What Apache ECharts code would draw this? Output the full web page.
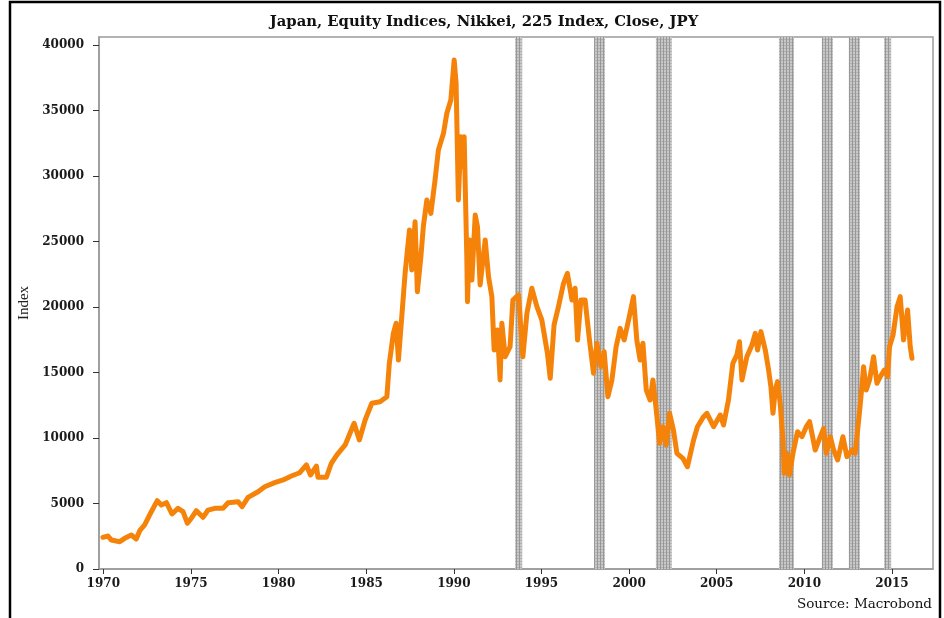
<!DOCTYPE html>
<html>
<head>
<meta charset="utf-8">
<title>Nikkei 225</title>
<script src="https://cdn.jsdelivr.net/npm/echarts@6/dist/echarts.min.js"></script>
<style>
  html, body { margin: 0; padding: 0; background: #fff; }
  #chart { width: 944px; height: 618px; }
</style>
</head>
<body>
<div id="chart"></div>
<script>
// Nikkei 225 close (decimal year, index level)
const years = [
  1969.98, 1970.27, 1970.46, 1970.94, 1971.22, 1971.6, 1971.88, 1972.08, 1972.36, 1972.74,
  1973.08, 1973.31, 1973.6, 1973.92, 1974.26, 1974.55, 1974.8, 1975.02, 1975.31, 1975.69,
  1975.98, 1976.36, 1976.83, 1977.12, 1977.69, 1977.92, 1978.26, 1978.83, 1979.21, 1979.78,
  1980.26, 1980.73, 1981.21, 1981.59, 1981.82, 1982.16, 1982.25, 1982.73, 1983.01, 1983.32,
  1983.8, 1984.31, 1984.61, 1984.94, 1985.32, 1985.79, 1986.18, 1986.32, 1986.55, 1986.71,
  1986.84, 1987.03, 1987.22, 1987.47, 1987.6, 1987.79, 1987.92, 1988.12, 1988.26, 1988.46,
  1988.69, 1988.93, 1989.12, 1989.41, 1989.6, 1989.83, 1990.02, 1990.13, 1990.26, 1990.4,
  1990.51, 1990.59, 1990.74, 1990.78, 1990.89, 1991.03, 1991.22, 1991.35, 1991.5, 1991.79,
  1991.98, 1992.17, 1992.3, 1992.49, 1992.64, 1992.74, 1992.93, 1993.21, 1993.37, 1993.69,
  1993.94, 1994.17, 1994.45, 1994.74, 1995.02, 1995.34, 1995.5, 1995.72, 1995.97, 1996.26,
  1996.48, 1996.74, 1996.92, 1997.06, 1997.25, 1997.49, 1997.74, 1997.97, 1998.16, 1998.39,
  1998.58, 1998.79, 1999.02, 1999.26, 1999.49, 1999.72, 1999.97, 2000.25, 2000.44, 2000.63,
  2000.79, 2000.98, 2001.2, 2001.36, 2001.59, 2001.74, 2001.93, 2002.12, 2002.31, 2002.53,
  2002.73, 2003.07, 2003.33, 2003.68, 2003.9, 2004.25, 2004.44, 2004.82, 2005.2, 2005.39,
  2005.67, 2005.92, 2006.15, 2006.3, 2006.44, 2006.72, 2007.01, 2007.2, 2007.33, 2007.52,
  2007.77, 2007.96, 2008.09, 2008.21, 2008.34, 2008.47, 2008.62, 2008.78, 2008.85, 2009.0,
  2009.15, 2009.35, 2009.61, 2009.86, 2010.11, 2010.3, 2010.62, 2010.91, 2011.1, 2011.25,
  2011.48, 2011.67, 2011.9, 2012.2, 2012.43, 2012.72, 2012.9, 2013.1, 2013.23, 2013.38,
  2013.53, 2013.72, 2013.95, 2014.14, 2014.33, 2014.56, 2014.75, 2014.86, 2015.06, 2015.29,
  2015.47, 2015.66, 2015.89, 2016.04, 2016.14
]
const closes = [
  2420, 2520, 2210, 2085, 2340, 2595, 2290, 2925, 3360, 4375,
  5215, 4885, 5060, 4200, 4630, 4375, 3490, 3870, 4450, 3945,
  4500, 4630, 4630, 5060, 5140, 4755, 5470, 5900, 6280, 6590,
  6795, 7100, 7350, 7940, 7175, 7860, 7000, 7000, 8070, 8700,
  9470, 11120, 9850, 11375, 12650, 12770, 13150, 15700, 17990, 18760,
  15955, 19260, 22570, 25880, 22830, 26510, 21170, 23840, 26130, 28170,
  27150, 29700, 31990, 33260, 34790, 35800, 38860, 37080, 28170, 33000,
  30710, 33000, 23840, 20400, 25115, 22060, 27020, 26130, 21680, 25115,
  22310, 20790, 16720, 18240, 14430, 18760, 16200, 16970, 20535, 20920,
  16200, 19520, 21430, 20025, 19010, 16470, 14560, 18630, 20025, 21810,
  22570, 20535, 21430, 17480, 20535, 20535, 17480, 14940, 17230, 15445,
  16590, 13150, 14430, 16970, 18370, 17480, 19010, 20790, 17480, 15955,
  17230, 13665, 12900, 14430, 11630, 9595, 10860, 9465, 11885, 10610,
  8830, 8450, 7810, 9850, 10860, 11630, 11885, 10860, 11755, 10990,
  12900, 15700, 16340, 17350, 14430, 16200, 17100, 17990, 16720, 18120,
  16720, 15190, 13920, 11885, 13665, 14300, 12650, 9850, 7305, 8830,
  7175, 8830, 10480, 10100, 10860, 11245, 9085, 10100, 10740, 8830,
  10100, 9085, 8320, 10100, 8575, 9085, 8830, 11375, 13150, 15445,
  13665, 14430, 16200, 14175, 14680, 15190, 14680, 16970, 17860, 20025,
  20790, 17480, 19770, 16970, 16080
]
// shaded periods
const bandStart = [1993.5, 1998.0, 2001.53, 2008.55, 2011.0, 2012.54, 2014.55]
const bandEnd = [1993.9, 1998.62, 2002.44, 2009.41, 2011.63, 2013.17, 2014.95]
const yearTicks = [1970, 1975, 1980, 1985, 1990, 1995, 2000, 2005, 2010, 2015]
const indexTicks = [0, 5000, 10000, 15000, 20000, 25000, 30000, 35000, 40000]

// little grey grid hatch for the bands
const hatch = document.createElement('canvas')
hatch.width = 3
hatch.height = 3
const hctx = hatch.getContext('2d')
hctx.fillStyle = '#c8c8c8'
hctx.fillRect(0, 0, 3, 3)
hctx.fillStyle = '#b0b0b0'
hctx.fillRect(0, 0, 3, 1)
hctx.fillStyle = '#979797'
hctx.fillRect(0, 0, 1, 3)

const labelFont = { fontFamily: 'DejaVu Serif', fontWeight: 'bold', fontSize: 12, color: '#1a1a1a' }

const chart = echarts.init(document.getElementById('chart'), null, { renderer: 'canvas' })
chart.setOption({
  animation: false,
  backgroundColor: '#fff',
  title: {
    text: 'Japan, Equity Indices, Nikkei, 225 Index, Close, JPY',
    left: 479,
    textAlign: 'center',
    top: 10,
    textStyle: { fontFamily: 'DejaVu Serif', fontWeight: 'bold', fontSize: 14.8, color: '#111' }
  },
  graphic: [
    {
      type: 'rect',
      shape: { x: 10, y: 2, width: 930, height: 660 },
      style: { fill: null, stroke: '#000', lineWidth: 2.5 },
      silent: true
    },
    {
      type: 'text',
      right: 12,
      top: 597,
      style: { text: 'Source: Macrobond', font: '13.5px "DejaVu Serif"', fill: '#111' }
    }
  ],
  grid: {
    left: 99,
    right: 11,
    top: 37,
    bottom: 49,
    show: true,
    borderColor: '#9a9a9a',
    borderWidth: 1.5
  },
  xAxis: {
    type: 'value',
    min: 1969.755,
    max: 2017.34,
    splitLine: { show: false },
    axisLine: { onZero: false, lineStyle: { color: '#9a9a9a', width: 1.5 } },
    axisTick: { customValues: yearTicks, length: 5, lineStyle: { color: '#333' } },
    axisLabel: Object.assign({ customValues: yearTicks, margin: 9, formatter: v => String(v) }, labelFont)
  },
  yAxis: {
    type: 'value',
    min: 0,
    max: 40610,
    name: 'Index',
    nameLocation: 'middle',
    nameGap: 60,
    nameTextStyle: { fontFamily: 'Liberation Serif', fontSize: 15, color: '#222' },
    splitLine: { show: false },
    axisLine: { show: true, lineStyle: { color: '#9a9a9a', width: 1.5 } },
    axisTick: { customValues: indexTicks, length: 6, lineStyle: { color: '#333' } },
    axisLabel: Object.assign({ customValues: indexTicks, margin: 15, formatter: v => String(v) }, labelFont)
  },
  series: [{
    type: 'line',
    data: years.map((y, i) => [y, closes[i]]),
    showSymbol: false,
    lineStyle: { color: '#f5830a', width: 5, join: 'round', cap: 'round' },
    markArea: {
      silent: true,
      itemStyle: { color: { image: hatch, repeat: 'repeat' } },
      data: bandStart.map((s, i) => [{ xAxis: s }, { xAxis: bandEnd[i] }])
    }
  }]
})
</script>
</body>
</html>
